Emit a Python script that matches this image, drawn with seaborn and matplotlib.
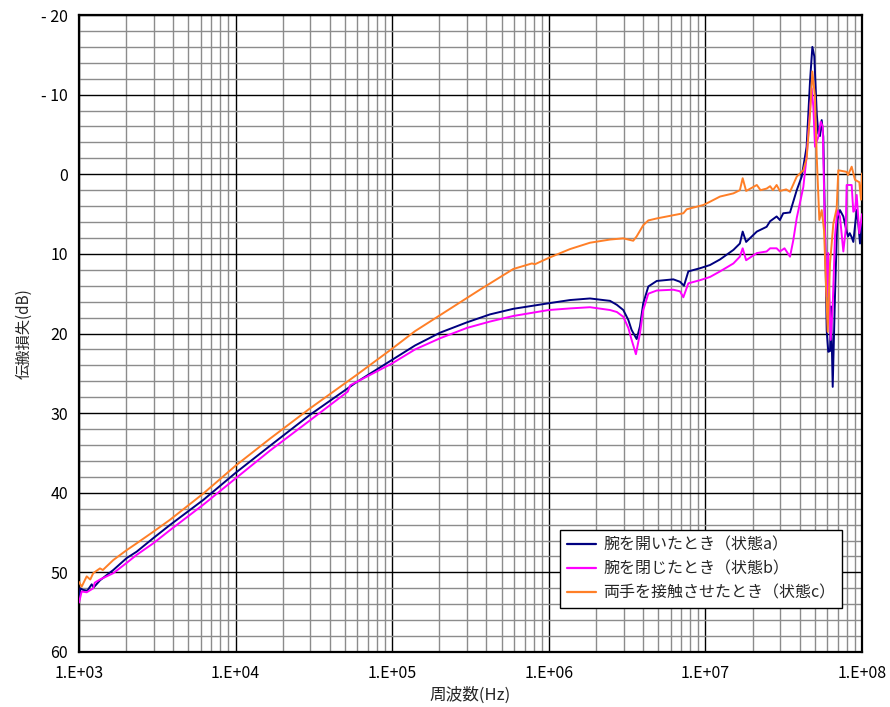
import numpy as np
import pandas as pd
import matplotlib
matplotlib.use("Agg")
import matplotlib.pyplot as plt
import matplotlib.ticker as mticker
import seaborn as sns

# ---- data ----
label_a = "腕を開いたとき（状態a）"
label_b = "腕を閉じたとき（状態b）"
label_c = "両手を接触させたとき（状態c）"

freq_a = [1000, 1020, 1060, 1130, 1205, 1240, 1361, 1656, 2017, 2335, 2980, 3808, 6220,
          1.0e4, 1.66e4, 2.99e4, 5.93e4, 1.0e5, 1.4e5, 2.02e5, 3.0e5, 4.21e5,
          5.93e5, 1.0e6, 1.365e6, 1.832e6, 2.23e6, 2.46e6, 2.72e6, 2.99e6, 3.22e6,
          3.38e6, 3.64e6, 3.82e6, 4.01e6, 4.32e6, 4.89e6, 6.24e6, 6.88e6, 7.30e6, 7.78e6,
          9.25e6, 1.07e7, 1.24e7, 1.51e7, 1.66e7,
          1.73e7, 1.82e7, 2.13e7, 2.46e7, 2.59e7, 2.85e7, 2.99e7, 3.14e7, 3.47e7, 3.83e7,
          4.12e7, 4.43e7, 4.66e7, 4.82e7, 4.96e7, 5.14e7, 5.26e7, 5.39e7, 5.53e7, 5.66e7,
          5.80e7, 5.95e7, 6.09e7, 6.25e7, 6.34e7, 6.50e7, 6.72e7, 6.95e7, 7.23e7, 7.60e7,
          7.98e7, 8.15e7, 8.35e7, 8.59e7, 8.80e7, 9.25e7, 9.45e7, 9.71e7, 1.0e8]
loss_a = [53.6, 52.0, 52.2, 52.3, 51.5, 51.9, 51.0, 49.7, 48.2, 47.4, 45.7, 44.05, 40.9,
          37.5, 34.1, 30.2, 26.1, 23.3, 21.5, 19.9, 18.6, 17.6,
          16.9, 16.2, 15.8, 15.6, 15.8, 15.9, 16.4, 17.05, 18.3,
          19.56, 20.7, 19.1, 16.2, 14.1, 13.4, 13.2, 13.5, 14.0, 12.2,
          11.8, 11.4, 10.7, 9.5, 8.7,
          7.2, 8.5, 7.2, 6.6, 5.9, 5.3, 5.75, 4.9, 4.8, 2.0,
          0.3, -3.45, -11.8, -16.0, -14.8, -7.65, -5.1, -4.8, -6.8, -4.7,
          6.2, 19.6, 22.3, 22.2, 16.6, 26.7, 15.4, 5.75, 4.5, 5.3,
          7.2, 7.8, 7.4, 7.9, 8.5, 4.5, 6.0, 8.7, 5.3]

freq_b = [1000, 1040, 1120, 1233, 1260, 1361, 1656, 2017, 2335, 2980, 3808, 6220,
          1.0e4, 1.66e4, 2.99e4, 5.2e4, 5.4e4, 1.0e5, 1.4e5, 2.02e5, 3.0e5,
          4.21e5, 5.93e5, 1.0e6, 1.365e6, 1.832e6, 2.46e6, 2.72e6, 2.99e6, 3.22e6, 3.38e6,
          3.60e6, 3.82e6, 4.01e6, 4.32e6, 4.89e6, 6.24e6, 6.88e6, 7.23e6, 7.78e6, 9.25e6,
          1.07e7, 1.24e7, 1.51e7,
          1.66e7, 1.73e7, 1.82e7, 2.13e7, 2.46e7, 2.59e7, 2.85e7, 2.99e7, 3.20e7, 3.47e7,
          3.64e7, 3.83e7, 4.22e7, 4.43e7, 4.77e7, 4.89e7, 5.01e7, 5.26e7, 5.45e7, 5.61e7,
          5.80e7, 5.95e7, 6.09e7, 6.31e7, 6.50e7, 6.72e7, 6.95e7, 7.23e7, 7.60e7, 7.87e7,
          7.98e7, 8.59e7, 8.80e7, 9.02e7, 9.25e7, 9.61e7, 9.86e7, 1.0e8]
loss_b = [53.8, 52.4, 52.5, 52.0, 51.3, 50.9, 50.1, 48.8, 47.8, 46.35, 44.7, 41.5,
          38.2, 34.7, 30.9, 27.3, 26.5, 23.75, 22.0, 20.6, 19.3,
          18.5, 17.8, 17.05, 16.85, 16.7, 17.05, 17.3, 17.9, 19.3, 20.8,
          22.6, 20.0, 17.05, 15.0, 14.6, 14.5, 14.7, 15.45, 13.7, 13.3,
          12.9, 12.2, 11.2,
          10.35, 9.3, 10.8, 9.9, 9.7, 9.3, 9.3, 9.7, 9.3, 10.35,
          8.3, 5.5, 1.6, -2.2, -10.8, -8.5, -3.45, -4.7, -6.6, -6.0,
          7.0, 15.4, 9.9, 20.8, 16.6, 7.8, 4.5, 5.3, 9.7, 7.0,
          1.35, 1.35, 4.7, 4.5, 2.6, 7.4, 6.0, 5.0]

freq_c = [1000, 1040, 1120, 1180, 1233, 1361, 1420, 1656, 2017, 2335, 2980, 3808, 6220,
          1.0e4, 1.66e4, 2.99e4, 5.93e4, 1.0e5, 1.4e5, 2.02e5, 3.63e5,
          5.93e5, 7.80e5, 8.16e5, 1.0e6, 1.365e6, 1.832e6, 2.46e6, 2.99e6, 3.46e6, 3.64e6,
          4.01e6, 4.32e6, 4.89e6, 7.23e6, 7.60e6, 9.71e6, 1.07e7, 1.24e7, 1.51e7, 1.66e7,
          1.73e7, 1.82e7, 2.13e7, 2.25e7, 2.46e7, 2.59e7, 2.70e7, 2.85e7, 2.99e7, 3.28e7,
          3.47e7, 3.83e7, 4.22e7, 4.43e7, 4.66e7, 4.82e7, 5.01e7, 5.14e7, 5.34e7, 5.53e7,
          5.72e7, 6.04e7, 6.25e7, 6.56e7, 6.89e7, 7.06e7, 7.98e7, 8.15e7, 8.59e7, 9.02e7,
          9.61e7, 9.86e7, 1.0e8]
loss_c = [51.2, 51.8, 50.5, 50.9, 50.1, 49.5, 49.7, 48.45, 47.2, 46.35, 44.9, 43.4, 40.1,
          36.6, 33.2, 29.4, 25.2, 21.9, 19.7, 17.7, 14.5,
          11.9, 11.2, 11.3, 10.5, 9.4, 8.6, 8.2, 8.05, 8.35, 7.8,
          6.4, 5.8, 5.55, 4.9, 4.4, 3.86, 3.45, 2.8, 2.4, 2.0,
          0.5, 2.1, 1.35, 2.0, 1.8, 1.5, 2.0, 1.35, 2.1, 1.9,
          2.2, 0.3, -0.5, -2.0, -7.65, -12.9, -9.7, -2.2, 5.75, 4.5,
          7.0, 19.8, 11.2, 6.2, 4.3, -0.5, -0.3, 0.1, -0.95, 0.7,
          1.0, 3.2, -0.1]

x_ticks = [1e3, 1e4, 1e5, 1e6, 1e7, 1e8]
x_tick_labels = ["1.E+03", "1.E+04", "1.E+05", "1.E+06", "1.E+07", "1.E+08"]
y_ticks = [-20, -10, 0, 10, 20, 30, 40, 50, 60]
y_tick_labels = ["- 20", "- 10", "0", "10", "20", "30", "40", "50", "60"]

colors = {label_a: "#000080", label_b: "#FF00FF", label_c: "#FF7F27"}

df = pd.concat([
    pd.DataFrame({"freq": freq_a, "loss": loss_a, "state": label_a}),
    pd.DataFrame({"freq": freq_b, "loss": loss_b, "state": label_b}),
    pd.DataFrame({"freq": freq_c, "loss": loss_c, "state": label_c}),
], ignore_index=True)

sns.set_style("white")
plt.rcParams["font.family"] = ["Noto Sans CJK JP", "DejaVu Sans"]

fig = plt.figure(figsize=(8.9, 7.07), dpi=100)
ax = fig.add_axes([79 / 890, 1 - 652 / 707, (862 - 79) / 890, (652 - 15) / 707])

sns.lineplot(data=df, x="freq", y="loss", hue="state", palette=colors,
             hue_order=[label_a, label_b, label_c], estimator=None, sort=False,
             linewidth=1.4, ax=ax, zorder=3)

ax.set_xscale("log")
ax.set_xlim(1e3, 1e8)
ax.set_ylim(60, -20)

ax.xaxis.set_major_locator(mticker.FixedLocator(x_ticks))
ax.xaxis.set_major_formatter(mticker.FixedFormatter(x_tick_labels))
ax.xaxis.set_minor_locator(mticker.LogLocator(base=10, subs=np.arange(2, 10), numticks=50))
ax.xaxis.set_minor_formatter(mticker.NullFormatter())
ax.yaxis.set_major_locator(mticker.FixedLocator(y_ticks))
ax.yaxis.set_major_formatter(mticker.FixedFormatter(y_tick_labels))
ax.yaxis.set_minor_locator(mticker.MultipleLocator(2))

ax.grid(True, which="minor", color="#8c8c8c", linewidth=1.0, zorder=0)
ax.grid(True, which="major", color="#000000", linewidth=1.0, zorder=1)
ax.set_axisbelow(True)
ax.tick_params(which="both", length=0, labelsize=11.5, colors="black")
ax.tick_params(axis="x", pad=9)
ax.tick_params(axis="y", pad=8)

for s in ax.spines.values():
    s.set_color("black")
    s.set_linewidth(1.6)

ax.set_xlabel("周波数(Hz)", fontsize=12, labelpad=4)
ax.set_ylabel("伝搬損失(dB)", fontsize=11, labelpad=6)

leg = ax.legend(loc="lower right", bbox_to_anchor=((842 - 79) / 783, (652 - 608) / 637),
                frameon=True, fancybox=False, framealpha=1, edgecolor="black",
                fontsize=11.5, handlelength=1.8, handletextpad=0.5, borderpad=0.4,
                labelspacing=0.45, borderaxespad=0)
leg.get_frame().set_linewidth(1.0)
for line in leg.get_lines():
    line.set_linewidth(1.6)

fig.savefig("out.png", dpi=100)
